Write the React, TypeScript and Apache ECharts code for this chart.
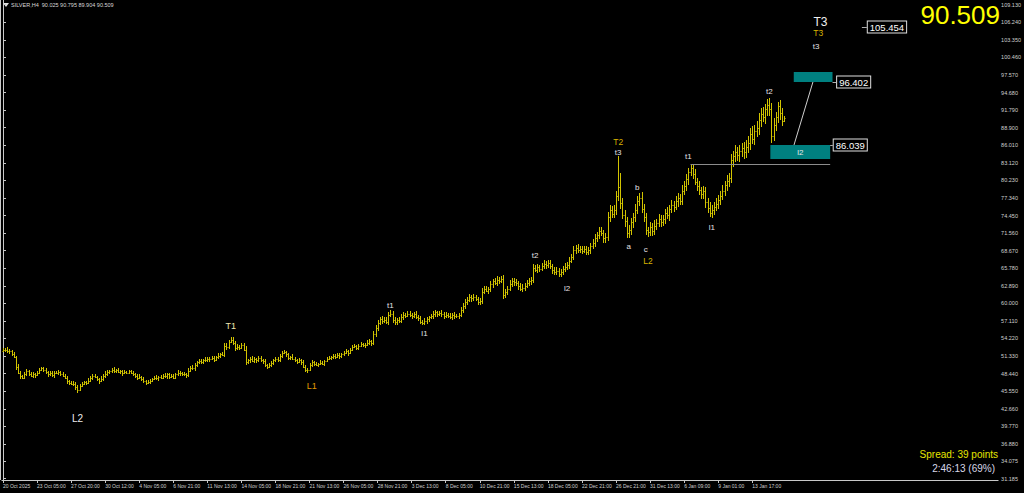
import { useEffect, useRef } from 'react';
import * as echarts from 'echarts';

// SILVER H4 closes (one value per bar)
const closes = [
  52.3, 52.4, 52.1, 52.2, 51.7, 51.2, 49.6, 48.6, 48.0, 47.8,
  48.3, 48.9, 48.4, 48.1, 48.3, 48.2, 48.6, 49.0, 49.3, 49.1,
  48.7, 48.3, 48.5, 48.2, 48.6, 48.5, 48.7, 48.4, 48.1, 47.8,
  47.2, 46.9, 46.7, 46.8, 46.2, 45.8, 46.4, 46.8, 47.0, 46.9,
  47.3, 47.8, 48.1, 47.9, 47.5, 47.2, 47.6, 48.0, 48.4, 48.7,
  48.8, 49.1, 48.9, 49.0, 48.7, 48.8, 48.5, 48.7, 48.6, 48.8,
  48.6, 48.4, 48.0, 47.7, 47.9, 47.6, 47.2, 46.9, 47.0, 47.3,
  47.6, 47.8, 47.7, 47.9, 47.8, 48.1, 48.0, 48.3, 47.9, 48.1,
  47.8, 48.3, 48.6, 48.5, 48.3, 48.4, 48.2, 48.9, 49.4, 49.3,
  49.9, 50.3, 50.5, 50.4, 50.7, 50.6, 50.9, 50.8, 51.0, 50.7,
  51.1, 51.4, 51.7, 51.5, 53.0, 52.8, 53.6, 54.0, 53.5, 52.6,
  52.9, 52.7, 53.1, 52.4, 50.3, 50.6, 50.9, 50.5, 50.8, 50.6,
  51.0, 50.7, 50.5, 49.9, 49.6, 49.8, 50.2, 50.6, 50.8, 50.6,
  51.3, 51.9, 52.0, 51.6, 51.0, 51.2, 50.9, 50.6, 50.4, 50.7,
  50.3, 49.6, 49.1, 49.0, 49.8, 50.3, 50.1, 49.9, 50.0, 50.2,
  50.1, 50.5, 50.9, 51.0, 51.1, 51.4, 51.2, 51.5, 51.3, 51.6,
  51.9, 52.1, 51.8, 52.4, 52.8, 53.0, 52.7, 53.0, 53.3, 53.1,
  53.2, 53.5, 53.8, 53.4, 54.9, 55.9, 56.8, 57.4, 57.1, 57.3,
  57.0, 58.1, 58.3, 57.2, 56.9, 57.3, 57.1, 57.8, 58.1, 58.0,
  58.3, 58.1, 57.9, 58.2, 57.8, 57.6, 57.0, 56.8, 57.1, 57.4,
  57.7, 57.9, 58.3, 58.5, 58.2, 58.4, 58.2, 57.9, 58.1, 58.0,
  57.8, 58.1, 57.9, 57.9, 58.1, 58.9, 59.5, 60.2, 60.6, 61.0,
  60.8, 61.1, 60.7, 60.2, 60.4, 61.9, 62.4, 62.1, 62.3, 63.1,
  63.6, 63.4, 63.9, 63.7, 64.0, 61.4, 61.9, 62.4, 63.2, 63.7,
  63.5, 63.3, 62.8, 62.4, 62.6, 62.9, 63.3, 63.6, 63.8, 65.8,
  65.5, 65.9, 65.7, 66.2, 66.5, 66.3, 66.6, 66.1, 65.5, 65.1,
  65.3, 64.9, 65.2, 65.6, 66.0, 66.3, 67.0, 67.6, 68.7, 69.1,
  68.8, 69.0, 68.6, 68.9, 68.5, 68.7, 69.5, 69.9, 70.8, 71.2,
  71.9, 71.5, 70.7, 70.9, 74.2, 75.4, 74.7, 75.3, 77.6, 79.2,
  76.5, 74.6, 73.5, 71.6, 72.0, 73.3, 74.2, 75.4, 76.8, 77.4,
  75.6, 74.2, 72.0, 71.8, 72.5, 71.9, 72.8, 73.2, 73.9, 73.4,
  73.8, 74.9, 74.5, 75.6, 76.2, 75.9, 76.8, 77.3, 76.9, 78.5,
  79.3, 80.4, 81.6, 82.2, 81.2, 80.0, 79.3, 78.6, 78.0, 78.4,
  76.6, 75.7, 74.9, 75.4, 75.9, 76.4, 77.0, 77.7, 78.5, 79.4,
  80.2, 80.6, 83.5, 84.2, 84.9, 84.4, 85.0, 85.5, 84.9, 85.8,
  86.4, 87.9, 87.1, 88.4, 88.9, 90.1, 91.2, 90.7, 91.9, 92.6,
  92.0, 87.6, 89.4, 90.6, 92.4, 91.3, 90.025, 90.509,
];

// how far each bar's high sits above its body
const wickHi = [
  0.3, 0.2, 0.4, 0.3, 0.2, 0.3, 0.2, 0.4, 0.3, 0.2,
  0.4, 0.3, 0.2, 0.3, 0.4, 0.2, 0.3, 0.4, 0.3, 0.2,
  0.3, 0.2, 0.4, 0.3, 0.2, 0.3, 0.4, 0.2, 0.3, 0.2,
  0.3, 0.2, 0.3, 0.4, 0.2, 0.3, 0.4, 0.3, 0.2, 0.3,
  0.4, 0.3, 0.2, 0.3, 0.2, 0.3, 0.4, 0.3, 0.4, 0.3,
  0.2, 0.3, 0.4, 0.2, 0.3, 0.2, 0.3, 0.4, 0.2, 0.3,
  0.2, 0.3, 0.2, 0.3, 0.4, 0.2, 0.3, 0.2, 0.4, 0.3,
  0.2, 0.3, 0.4, 0.2, 0.3, 0.2, 0.4, 0.3, 0.2, 0.3,
  0.3, 0.2, 0.4, 0.3, 0.2, 0.3, 0.2, 0.4, 0.3, 0.4,
  0.3, 0.2, 0.4, 0.3, 0.2, 0.4, 0.3, 0.2, 0.3, 0.4,
  0.3, 0.4, 0.2, 0.3, 0.5, 0.4, 0.3, 0.4, 0.5, 0.3,
  0.4, 0.3, 0.4, 0.3, 0.6, 0.3, 0.2, 0.4, 0.3, 0.2,
  0.3, 0.4, 0.2, 0.3, 0.2, 0.4, 0.3, 0.2, 0.4, 0.3,
  0.4, 0.3, 0.4, 0.2, 0.3, 0.2, 0.4, 0.3, 0.2, 0.3,
  0.2, 0.3, 0.2, 0.3, 0.4, 0.3, 0.2, 0.3, 0.2, 0.4,
  0.3, 0.2, 0.3, 0.4, 0.2, 0.3, 0.2, 0.4, 0.3, 0.2,
  0.3, 0.4, 0.2, 0.3, 0.4, 0.3, 0.2, 0.3, 0.4, 0.2,
  0.3, 0.4, 0.3, 0.2, 0.5, 0.6, 0.5, 0.4, 0.5, 0.4,
  0.5, 0.4, 0.6, 0.4, 0.5, 0.3, 0.4, 0.5, 0.4, 0.3,
  0.4, 0.5, 0.3, 0.4, 0.5, 0.3, 0.4, 0.3, 0.5, 0.4,
  0.3, 0.4, 0.5, 0.4, 0.3, 0.4, 0.5, 0.3, 0.4, 0.3,
  0.4, 0.3, 0.5, 0.4, 0.3, 0.5, 0.6, 0.5, 0.4, 0.5,
  0.4, 0.5, 0.3, 0.4, 0.5, 0.6, 0.4, 0.5, 0.4, 0.5,
  0.4, 0.5, 0.6, 0.4, 0.5, 0.7, 0.5, 0.4, 0.6, 0.5,
  0.4, 0.5, 0.4, 0.6, 0.5, 0.4, 0.5, 0.6, 0.5, 0.7,
  0.5, 0.6, 0.4, 0.5, 0.6, 0.4, 0.5, 0.6, 0.4, 0.5,
  0.6, 0.5, 0.4, 0.5, 0.6, 0.5, 0.6, 0.5, 0.7, 0.5,
  0.6, 0.5, 0.4, 0.6, 0.5, 0.6, 0.5, 0.7, 0.6, 0.5,
  0.6, 0.7, 0.5, 0.6, 0.8, 0.7, 0.6, 0.8, 0.9, 5.0,
  2.3, 0.9, 0.8, 0.7, 0.9, 0.8, 0.7, 0.9, 0.8, 0.7,
  0.9, 0.8, 0.7, 0.6, 0.8, 0.7, 0.9, 0.6, 0.8, 0.7,
  0.8, 0.7, 0.9, 0.6, 0.8, 0.7, 0.9, 0.8, 0.7, 0.9,
  0.8, 0.9, 0.7, 0.6, 0.8, 0.9, 0.7, 0.8, 0.6, 0.9,
  0.8, 0.7, 0.9, 0.8, 0.7, 0.9, 0.8, 0.7, 0.9, 0.8,
  0.9, 0.8, 1.0, 0.9, 1.1, 0.8, 1.0, 0.9, 1.1, 1.0,
  1.1, 1.0, 1.2, 0.9, 1.1, 1.2, 1.0, 1.1, 0.9, 1.0,
  1.2, 1.0, 1.1, 0.9, 0.7, 1.0, 0.8, 0.286,
];

// how far each bar's low sits below its body
const wickLo = [
  0.2, 0.3, 0.2, 0.4, 0.3, 0.2, 0.5, 0.3, 0.4, 0.3,
  0.2, 0.3, 0.4, 0.2, 0.3, 0.4, 0.2, 0.3, 0.2, 0.4,
  0.3, 0.4, 0.2, 0.3, 0.4, 0.2, 0.3, 0.4, 0.2, 0.3,
  0.4, 0.3, 0.2, 0.3, 0.4, 0.5, 0.3, 0.2, 0.3, 0.4,
  0.2, 0.3, 0.4, 0.2, 0.3, 0.4, 0.2, 0.3, 0.2, 0.3,
  0.3, 0.2, 0.3, 0.4, 0.2, 0.3, 0.4, 0.2, 0.3, 0.2,
  0.3, 0.4, 0.2, 0.3, 0.2, 0.4, 0.3, 0.4, 0.2, 0.3,
  0.3, 0.2, 0.3, 0.4, 0.2, 0.3, 0.2, 0.4, 0.3, 0.2,
  0.2, 0.3, 0.2, 0.4, 0.3, 0.2, 0.4, 0.3, 0.2, 0.3,
  0.4, 0.3, 0.2, 0.3, 0.4, 0.2, 0.3, 0.4, 0.2, 0.3,
  0.2, 0.3, 0.4, 0.2, 0.3, 0.4, 0.3, 0.2, 0.4, 0.5,
  0.3, 0.4, 0.2, 0.3, 0.4, 0.3, 0.4, 0.2, 0.3, 0.4,
  0.2, 0.3, 0.4, 0.3, 0.4, 0.2, 0.3, 0.4, 0.2, 0.3,
  0.2, 0.3, 0.2, 0.4, 0.3, 0.4, 0.2, 0.3, 0.4, 0.2,
  0.4, 0.3, 0.4, 0.5, 0.2, 0.3, 0.4, 0.2, 0.3, 0.2,
  0.3, 0.4, 0.2, 0.3, 0.4, 0.2, 0.3, 0.2, 0.4, 0.3,
  0.2, 0.3, 0.4, 0.2, 0.3, 0.2, 0.4, 0.3, 0.2, 0.3,
  0.4, 0.2, 0.3, 0.4, 0.3, 0.4, 0.5, 0.4, 0.5, 0.4,
  0.4, 0.5, 0.3, 0.5, 0.4, 0.5, 0.3, 0.4, 0.5, 0.4,
  0.3, 0.4, 0.5, 0.3, 0.4, 0.5, 0.4, 0.3, 0.4, 0.5,
  0.4, 0.3, 0.4, 0.5, 0.4, 0.3, 0.4, 0.5, 0.3, 0.4,
  0.3, 0.5, 0.4, 0.3, 0.4, 0.3, 0.5, 0.4, 0.5, 0.4,
  0.5, 0.4, 0.3, 0.5, 0.4, 0.5, 0.4, 0.3, 0.5, 0.4,
  0.5, 0.4, 0.5, 0.6, 0.4, 0.7, 0.5, 0.6, 0.4, 0.5,
  0.6, 0.5, 0.6, 0.4, 0.5, 0.6, 0.4, 0.5, 0.6, 0.5,
  0.4, 0.5, 0.6, 0.4, 0.5, 0.6, 0.5, 0.4, 0.6, 0.5,
  0.5, 0.6, 0.5, 0.6, 0.4, 0.5, 0.6, 0.4, 0.5, 0.6,
  0.5, 0.6, 0.5, 0.4, 0.6, 0.5, 0.6, 0.5, 0.6, 0.7,
  0.6, 0.5, 0.8, 0.7, 0.6, 0.8, 0.7, 0.6, 0.7, 0.8,
  1.0, 0.8, 0.9, 0.9, 0.8, 0.7, 0.9, 0.8, 0.7, 0.8,
  0.7, 0.9, 0.8, 0.9, 0.7, 0.8, 0.6, 0.8, 0.7, 0.9,
  0.7, 0.8, 0.6, 0.9, 0.7, 0.8, 0.6, 0.9, 0.7, 0.8,
  0.7, 0.8, 0.9, 0.7, 0.8, 0.6, 0.9, 0.7, 0.8, 0.9,
  0.9, 0.8, 0.7, 0.9, 0.8, 0.7, 0.9, 0.8, 0.7, 0.8,
  0.9, 1.0, 0.8, 1.1, 0.9, 1.0, 1.2, 0.9, 1.1, 1.0,
  1.0, 1.2, 0.9, 1.1, 1.0, 1.2, 1.1, 0.9, 1.2, 1.0,
  1.1, 1.2, 0.9, 1.1, 1.0, 1.2, 0.9, 0.121,
];

const firstOpen = 52.2;

// time labels, one every 16 bars
const tickLabels = [
  '20 Oct 2025', '23 Oct 05:00', '27 Oct 20:00', '30 Oct 12:00', '4 Nov 05:00',
  '6 Nov 21:00', '11 Nov 13:00', '14 Nov 05:00', '18 Nov 21:00', '21 Nov 13:00',
  '26 Nov 05:00', '28 Nov 21:00', '3 Dec 13:00', '8 Dec 05:00', '10 Dec 21:00',
  '15 Dec 13:00', '18 Dec 05:00', '22 Dec 21:00', '26 Dec 21:00', '31 Dec 13:00',
  '6 Jan 09:00', '9 Jan 01:00', '13 Jan 17:00',
];
const barsPerLabel = 16;

const priceTicks = [
  31.185, 34.075, 36.88, 39.77, 42.66, 45.55, 48.44, 51.33, 54.22, 57.11,
  60.0, 62.89, 65.78, 68.67, 71.56, 74.45, 77.34, 80.23, 83.12, 86.01,
  88.9, 91.79, 94.68, 97.57, 100.46, 103.35, 106.24, 109.13,
];

// wave labels: text, bar, price, kind
const waveLabels: [string, number, number, string][] = [
  ['L2', 35, 41.1, 'big'],
  ['T1', 107, 56.3, 'pale'],
  ['L1', 145, 46.4, 'orange'],
  ['t1', 182, 59.7, 'minor'],
  ['l1', 198, 55.1, 'minor'],
  ['t2', 250, 67.8, 'minor'],
  ['l2', 265, 62.5, 'minor'],
  ['T2', 289, 86.6, 'gold'],
  ['t3', 289, 84.85, 'minor'],
  ['a', 294, 69.4, 'minor'],
  ['b', 298, 79.0, 'minor'],
  ['c', 302, 68.9, 'minor'],
  ['L2', 303, 67.0, 'gold'],
  ['t1', 322, 84.2, 'minor'],
  ['l1', 333, 72.4, 'minor'],
  ['t2', 360, 94.8, 'minor'],
  ['T3', 384, 106.3, 'white'],
  ['T3', 383, 104.5, 'gold'],
  ['t3', 382, 102.2, 'minor'],
];

// target boxes: from bar, to bar, top, bottom
const upperZone = [371.5, 389.7, 98.06, 96.41];
const lowerZone = [360.5, 388.6, 86.05, 83.74];
const trendLine = [[380.5, 96.41], [371.6, 86.05]];
const t1Level = 82.8;
const t1LevelBars = [323, 388.6];
// target price tags: price, line start bar, line end bar
const targets: [number, number, number][] = [
  [105.454, 403.5, 405.8],
  [96.402, 389.7, 391.4],
  [86.039, 388.6, 389.8],
];
const spreadPoints = 39;
const timer = '2:46:13 (69%)';

const FONT = 'Liberation Sans, Arial, sans-serif';
const BAR_COLOR = '#d2c400';
const AXIS_COLOR = '#c8c8c8';

const kindStyle: Record<string, { color: string; size: number }> = {
  big: { color: '#ececec', size: 10 },
  white: { color: '#f0f0f0', size: 12 },
  pale: { color: '#efe6b0', size: 9 },
  orange: { color: '#e09a00', size: 9 },
  gold: { color: '#d8b400', size: 8.5 },
  minor: { color: '#e6e0e6', size: 8 },
};

const bars = closes.map((c, i) => {
  const o = i === 0 ? firstOpen : closes[i - 1];
  const h = +(Math.max(o, c) + wickHi[i]).toFixed(3);
  const l = +(Math.min(o, c) - wickLo[i]).toFixed(3);
  return [i, o, h, l, c];
});
const last = bars[bars.length - 1];
const fmt = (v: number) => v.toFixed(3);
const crisp = (v: number) => Math.round(v) + 0.5;

const App = () => {
  const chartRef = useRef<HTMLDivElement>(null);

  useEffect(() => {
    if (!chartRef.current) return;
    const chart = echarts.init(chartRef.current, null, { renderer: 'svg' });

    const option: any = {
      animation: false,
      backgroundColor: '#000',
      grid: { left: 0, top: 0, right: 22, bottom: 13 },
      xAxis: {
        type: 'value',
        min: -0.5,
        max: 467.5,
        axisLine: { show: true, lineStyle: { color: AXIS_COLOR } },
        axisTick: {
          show: true,
          length: 3,
          customValues: tickLabels.map((_, k) => k * barsPerLabel),
          lineStyle: { color: AXIS_COLOR },
        },
        axisLabel: {
          customValues: tickLabels.map((_, k) => k * barsPerLabel),
          formatter: (v: number) => tickLabels[Math.round(v / barsPerLabel)] ?? '',
          align: 'left',
          color: '#d0d0d0',
          fontSize: 5,
          fontFamily: FONT,
          margin: 3,
        },
        splitLine: { show: false },
      },
      yAxis: {
        type: 'value',
        position: 'right',
        min: 30.94,
        max: 109.9,
        axisLine: { show: true, lineStyle: { color: AXIS_COLOR } },
        axisTick: { show: true, length: 3, customValues: priceTicks, lineStyle: { color: AXIS_COLOR } },
        axisLabel: {
          customValues: priceTicks,
          formatter: (v: number) => fmt(v),
          color: '#d0d0d0',
          fontSize: 5.5,
          fontFamily: FONT,
          margin: 3,
        },
        splitLine: { show: false },
      },
      series: [
        {
          type: 'custom',
          data: bars,
          encode: { x: 0, y: [1, 2, 3, 4] },
          clip: true,
          renderItem: (_params: any, api: any) => {
            const i = api.value(0);
            const pO = api.coord([i, api.value(1)]);
            const pH = api.coord([i, api.value(2)]);
            const pL = api.coord([i, api.value(3)]);
            const pC = api.coord([i, api.value(4)]);
            const x = crisp(pH[0]);
            const yH = Math.round(pH[1]);
            const yL = Math.max(Math.round(pL[1]), yH + 1);
            const st = { stroke: BAR_COLOR, lineWidth: 1 };
            return {
              type: 'group',
              children: [
                { type: 'line', shape: { x1: x, y1: yH, x2: x, y2: yL }, style: st },
                { type: 'line', shape: { x1: x - 1, y1: crisp(pO[1]), x2: x, y2: crisp(pO[1]) }, style: st },
                { type: 'line', shape: { x1: x, y1: crisp(pC[1]), x2: x + 1, y2: crisp(pC[1]) }, style: st },
              ],
            };
          },
        },
        {
          type: 'line',
          data: [],
          silent: true,
          markArea: {
            silent: true,
            data: [
              [
                { coord: [upperZone[0], upperZone[2]], itemStyle: { color: '#008080' }, label: { show: false } },
                { coord: [upperZone[1], upperZone[3]] },
              ],
              [
                {
                  coord: [lowerZone[0], lowerZone[2]],
                  itemStyle: { color: '#008080' },
                  label: { show: true, position: 'inside', formatter: 'l2', color: '#e8e8e8', fontSize: 8, fontFamily: FONT },
                },
                { coord: [lowerZone[1], lowerZone[3]] },
              ],
            ],
          },
          markLine: {
            silent: true,
            symbol: ['none', 'none'],
            label: { show: false },
            data: [
              [
                { coord: trendLine[0], lineStyle: { color: '#d0d0d0', width: 1, type: 'solid' } },
                { coord: trendLine[1] },
              ],
              [
                { coord: [t1LevelBars[0], t1Level], lineStyle: { color: '#8c8c8c', width: 1, type: 'solid' } },
                { coord: [t1LevelBars[1], t1Level] },
              ],
              ...targets.map(([p, a, b]) => [
                {
                  coord: [a, p],
                  lineStyle: { color: '#b0b0b0', width: 1, type: 'solid' },
                  label: {
                    show: true,
                    position: 'end',
                    distance: 1,
                    formatter: fmt(p),
                    color: '#ffffff',
                    fontSize: 9.5,
                    fontFamily: FONT,
                    backgroundColor: '#000',
                    borderColor: '#e0e0e0',
                    borderWidth: 1,
                    padding: [1, 2, 0, 2],
                  },
                },
                { coord: [b, p] },
              ]),
              {
                // current price tag on the price scale
                yAxis: last[4],
                lineStyle: { opacity: 0, width: 0 },
                label: {
                  show: true,
                  position: 'end',
                  distance: 1,
                  formatter: fmt(last[4]),
                  color: '#444',
                  fontSize: 5.5,
                  fontFamily: FONT,
                  backgroundColor: '#ffffff',
                  padding: [1, 1.5, 0.5, 1.5],
                },
              },
            ],
          },
          markPoint: {
            silent: true,
            data: waveLabels.map(([text, bar, price, kind]) => ({
              coord: [bar, price],
              symbol: 'circle',
              symbolSize: 1,
              itemStyle: { color: 'transparent' },
              label: {
                show: true,
                position: 'inside',
                formatter: text,
                color: kindStyle[kind].color,
                fontSize: kindStyle[kind].size,
                fontFamily: FONT,
              },
            })),
          },
        },
      ],
      graphic: [
        {
          type: 'line',
          shape: { x1: 0.5, y1: 0, x2: 0.5, y2: 480 },
          style: { stroke: AXIS_COLOR, lineWidth: 1 },
        },
        { type: 'polygon', shape: { points: [[3, 3], [9, 3], [6, 7]] }, style: { fill: '#e0e0e0' } },
        {
          type: 'text',
          x: 11,
          y: 5,
          style: {
            text: `SILVER,H4  ${fmt(last[1])} ${fmt(last[2])} ${fmt(last[3])} ${fmt(last[4])}`,
            fill: '#d8d8d8',
            fontSize: 5.5,
            fontFamily: FONT,
            verticalAlign: 'middle',
          },
        },
        {
          type: 'text',
          x: 1000,
          y: 15,
          style: {
            text: fmt(last[4]),
            fill: '#ffff00',
            fontSize: 26,
            fontFamily: FONT,
            align: 'right',
            verticalAlign: 'middle',
          },
        },
        {
          type: 'text',
          x: 998,
          y: 454,
          style: {
            text: `Spread: ${spreadPoints} points`,
            fill: '#e6e600',
            fontSize: 10,
            fontFamily: FONT,
            align: 'right',
            verticalAlign: 'middle',
          },
        },
        {
          type: 'text',
          x: 995,
          y: 468,
          style: {
            text: timer,
            fill: '#d8d8e8',
            fontSize: 10,
            fontFamily: FONT,
            align: 'right',
            verticalAlign: 'middle',
          },
        },
      ],
    };

    chart.setOption(option);
    return () => {
      chart.dispose();
    };
  }, []);

  return (
    <div
      ref={chartRef}
      style={{ position: 'fixed', left: 0, top: 0, width: '1024px', height: '493px', background: '#000' }}
    />
  );
};

export default App;
